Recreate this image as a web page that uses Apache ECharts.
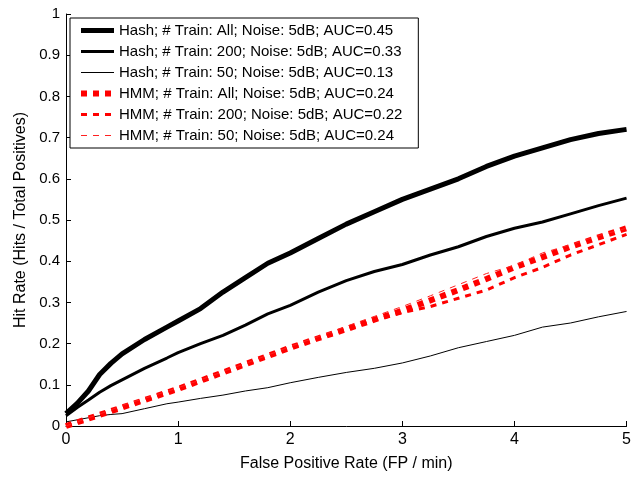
<!DOCTYPE html>
<html>
<head>
<meta charset="utf-8">
<script src="https://cdn.jsdelivr.net/npm/echarts@6/dist/echarts.min.js"></script>
<style>
  html, body { margin: 0; padding: 0; background: #fff; }
  #chart { width: 634px; height: 477px; }
</style>
</head>
<body>
<div id="chart"></div>
<script>
// false positive rate (FP / min)
const fpRate = [0, 0.1, 0.2, 0.3, 0.4, 0.5, 0.7, 0.9, 1.0, 1.2, 1.4, 1.6, 1.8, 2.0,
  2.25, 2.5, 2.75, 3.0, 3.25, 3.5, 3.75, 4.0, 4.25, 4.5, 4.75, 5.0];

const hashAll = [0.03, 0.055, 0.085, 0.125, 0.152, 0.175, 0.21, 0.24, 0.255, 0.285, 0.325, 0.36, 0.395, 0.42,
  0.455, 0.49, 0.52, 0.55, 0.575, 0.6, 0.63, 0.655, 0.675, 0.695, 0.71, 0.72];
const hash200 = [0.025, 0.045, 0.063, 0.082, 0.098, 0.112, 0.14, 0.165, 0.178, 0.2, 0.22, 0.245, 0.272, 0.293,
  0.325, 0.353, 0.375, 0.392, 0.415, 0.435, 0.46, 0.48, 0.495, 0.515, 0.535, 0.553];
const hash50 = [0.01, 0.015, 0.02, 0.025, 0.028, 0.03, 0.042, 0.054, 0.058, 0.067, 0.075, 0.085, 0.093, 0.105,
  0.118, 0.13, 0.14, 0.153, 0.17, 0.19, 0.205, 0.22, 0.24, 0.25, 0.265, 0.278];
const hmmAll = [0, 0.009, 0.018, 0.027, 0.036, 0.045, 0.063, 0.081, 0.09, 0.11, 0.13, 0.15, 0.17, 0.19,
  0.213, 0.235, 0.258, 0.28, 0.305, 0.33, 0.357, 0.385, 0.41, 0.435, 0.458, 0.48];
const hmm200 = [0, 0.009, 0.018, 0.027, 0.036, 0.045, 0.063, 0.081, 0.09, 0.11, 0.13, 0.15, 0.17, 0.19,
  0.213, 0.235, 0.257, 0.275, 0.29, 0.31, 0.33, 0.36, 0.385, 0.415, 0.44, 0.465];
const hmm50 = [0, 0.01, 0.02, 0.029, 0.039, 0.05, 0.067, 0.084, 0.093, 0.112, 0.132, 0.152, 0.172, 0.193,
  0.217, 0.242, 0.266, 0.29, 0.316, 0.343, 0.37, 0.39, 0.42, 0.44, 0.462, 0.48];

const names = [
  'Hash; # Train: All; Noise: 5dB; AUC=0.45',
  'Hash; # Train: 200; Noise: 5dB; AUC=0.33',
  'Hash; # Train: 50; Noise: 5dB; AUC=0.13',
  'HMM; # Train: All; Noise: 5dB; AUC=0.24',
  'HMM; # Train: 200; Noise: 5dB; AUC=0.22',
  'HMM; # Train: 50; Noise: 5dB; AUC=0.24',
];

const pairs = (ys) => fpRate.map((x, i) => [x, ys[i]]);

const font = 'Liberation Sans, Arial, Helvetica, sans-serif';

// color, width, dash for each series (same order as names)
const styles = [
  { color: '#000', width: 5, type: 'solid' },
  { color: '#000', width: 3, type: 'solid' },
  { color: '#000', width: 1, type: 'solid' },
  { color: '#ff0000', width: 6, type: [6, 6] },
  { color: '#ff0000', width: 3, type: [6, 6] },
  { color: '#ff2020', width: 1, type: [6, 6] },
];

const allData = [hashAll, hash200, hash50, hmmAll, hmm200, hmm50];

const chart = echarts.init(document.getElementById('chart'));

const option = {
  animation: false,
  grid: { left: 66, right: 7, top: 14, bottom: 49 },
  legend: {
    orient: 'vertical',
    left: 70,
    top: 18,
    padding: [5, 16, 5, 8],
    itemWidth: 33,
    itemHeight: 14,
    itemGap: 6,
    borderColor: '#000',
    borderWidth: 1,
    backgroundColor: '#fff',
    itemStyle: { opacity: 0 },
    textStyle: { fontFamily: font, fontSize: 15, color: '#000' },
    data: names.map((name, i) => ({
      name,
      lineStyle: { color: styles[i].color, width: styles[i].width, type: styles[i].type, cap: 'butt' },
    })),
  },
  xAxis: {
    type: 'value',
    min: 0,
    max: 5,
    interval: 1,
    name: 'False Positive Rate (FP / min)',
    nameLocation: 'middle',
    nameGap: 30,
    nameTextStyle: { fontFamily: font, fontSize: 16, color: '#000' },
    axisLine: { lineStyle: { color: '#000', width: 1 } },
    axisTick: { inside: true, length: 5, lineStyle: { color: '#000' } },
    axisLabel: { fontFamily: font, fontSize: 16, color: '#000', margin: 6 },
    splitLine: { show: false },
  },
  yAxis: {
    type: 'value',
    min: 0,
    max: 1,
    interval: 0.1,
    name: 'Hit Rate (Hits / Total Positives)',
    nameLocation: 'middle',
    nameGap: 37,
    nameTextStyle: { fontFamily: font, fontSize: 16, color: '#000' },
    axisLine: { show: true, lineStyle: { color: '#000', width: 1 } },
    axisTick: { show: true, inside: true, length: 5, lineStyle: { color: '#000' } },
    axisLabel: { fontFamily: font, fontSize: 15, color: '#000', margin: 6 },
    splitLine: { show: false },
  },
  series: names.map((name, i) => ({
    name,
    type: 'line',
    data: pairs(allData[i]),
    showSymbol: false,
    symbol: 'none',
    lineStyle: { color: styles[i].color, width: styles[i].width, type: styles[i].type, cap: 'butt' },
    itemStyle: { color: styles[i].color },
  })),
};

chart.setOption(option);
</script>
</body>
</html>
